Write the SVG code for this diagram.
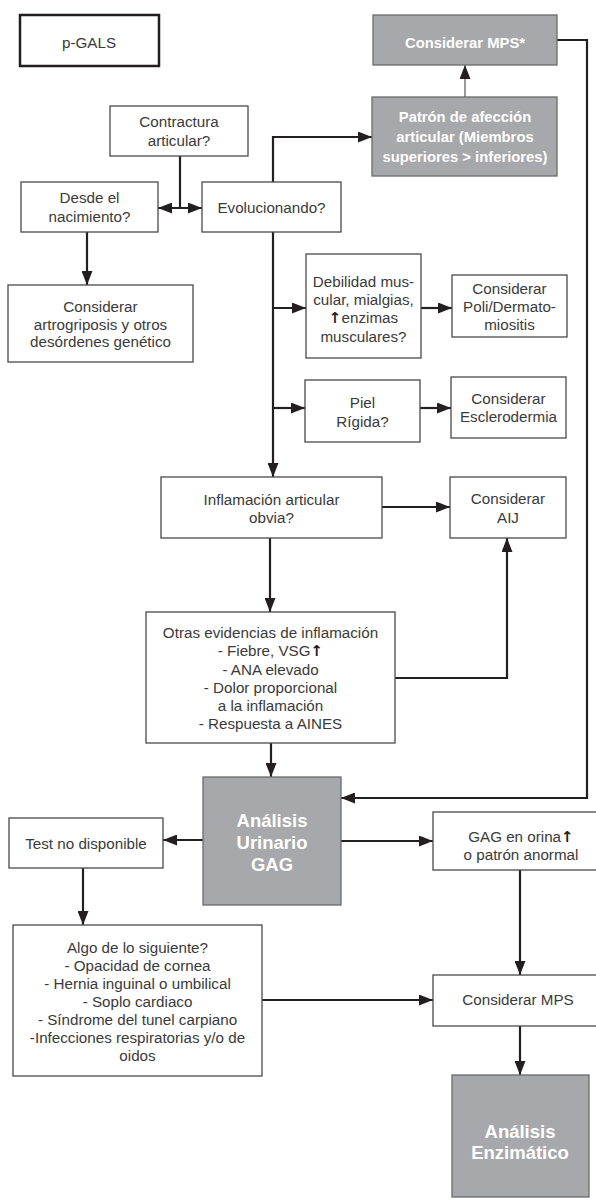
<svg xmlns="http://www.w3.org/2000/svg" width="596" height="1201" viewBox="0 0 596 1201">
<style>
  .box{fill:#fff;stroke:#4a4a4a;stroke-width:1.3}
  .gbox{fill:#a7a8ab;stroke:#6a6a6a;stroke-width:1.3}
  .t{font-family:"Liberation Sans",Arial,sans-serif;font-size:15.2px;fill:#3a3a3a;text-anchor:middle}
  .b{font-family:"Liberation Sans",Arial,sans-serif;font-size:14.8px;font-weight:bold;fill:#fff;text-anchor:middle}
  .bb{font-family:"Liberation Sans",Arial,sans-serif;font-size:18.5px;font-weight:bold;fill:#fff;text-anchor:middle}
  .ar{font-family:"DejaVu Sans",sans-serif;font-weight:bold;fill:#231f20}
  .c{fill:none;stroke:#231f20;stroke-width:2.2}
  .thin{fill:none;stroke:#555;stroke-width:1.2}
</style>
<defs>
  <marker id="ah" markerUnits="userSpaceOnUse" markerWidth="14" markerHeight="11" refX="14" refY="5.5" orient="auto-start-reverse">
    <path d="M0,0 L14,5.5 L0,11 z" fill="#231f20"/>
  </marker>
</defs>
<rect width="596" height="1201" fill="#fff"/>

<g id="connectors">
  <path class="c" d="M180,156 V208"/>
  <path class="c" d="M158,208 H202" marker-start="url(#ah)" marker-end="url(#ah)"/>
  <path class="c" d="M273,182 V137 H372" marker-end="url(#ah)"/>
  <path class="thin" d="M465,97 V65" marker-end="url(#ah)"/>
  <path class="c" d="M557,40 H587 V798 H341" marker-end="url(#ah)"/>
  <path class="c" d="M87,232 V285" marker-end="url(#ah)"/>
  <path class="c" d="M273,232 V477" marker-end="url(#ah)"/>
  <path class="c" d="M273,308 H306" marker-end="url(#ah)"/>
  <path class="c" d="M273,408 H305" marker-end="url(#ah)"/>
  <path class="c" d="M421,308 H452" marker-end="url(#ah)"/>
  <path class="c" d="M420,408 H451" marker-end="url(#ah)"/>
  <path class="c" d="M382,507 H450" marker-end="url(#ah)"/>
  <path class="c" d="M270,538 V612" marker-end="url(#ah)"/>
  <path class="c" d="M395,678 H507 V538" marker-end="url(#ah)"/>
  <path class="c" d="M271,743 V777" marker-end="url(#ah)"/>
  <path class="c" d="M203,840 H163" marker-end="url(#ah)"/>
  <path class="c" d="M341,841 H433" marker-end="url(#ah)"/>
  <path class="c" d="M83,868 V925" marker-end="url(#ah)"/>
  <path class="c" d="M262,1000 H433" marker-end="url(#ah)"/>
  <path class="c" d="M520,870 V975" marker-end="url(#ah)"/>
  <path class="c" d="M520,1026 V1075" marker-end="url(#ah)"/>
</g>

<g id="pgals">
  <rect x="20" y="15" width="139" height="51" fill="#fff" stroke="#231f20" stroke-width="2.5"/>
  <text class="t" x="89" y="48">p-GALS</text>
</g>
<g id="considerar-mps-star">
  <rect class="gbox" x="373" y="15" width="184" height="50"/>
  <text class="b" x="465" y="48">Considerar MPS*</text>
</g>
<g id="patron">
  <rect class="gbox" x="372" y="97" width="185" height="79"/>
  <text class="b" x="465" y="122">Patrón de afección</text>
  <text class="b" x="465" y="142">articular (Miembros</text>
  <text class="b" x="465" y="162">superiores &gt; inferiores)</text>
</g>
<g id="contractura">
  <rect class="box" x="110" y="106" width="138" height="50"/>
  <text class="t" x="179" y="127">Contractura</text>
  <text class="t" x="179" y="146">articular?</text>
</g>
<g id="desde">
  <rect class="box" x="21" y="182" width="137" height="50"/>
  <text class="t" x="89.5" y="203">Desde el</text>
  <text class="t" x="89.5" y="222">nacimiento?</text>
</g>
<g id="evolucionando">
  <rect class="box" x="202" y="182" width="139" height="50"/>
  <text class="t" x="271.5" y="213">Evolucionando?</text>
</g>
<g id="artrogriposis">
  <rect class="box" x="8" y="285" width="185" height="77"/>
  <text class="t" x="100.5" y="312">Considerar</text>
  <text class="t" x="100.5" y="329.5">artrogriposis y otros</text>
  <text class="t" x="100.5" y="347">desórdenes genético</text>
</g>
<g id="debilidad">
  <rect class="box" x="306" y="254" width="115" height="104"/>
  <text class="t" x="363.5" y="287">Debilidad mus-</text>
  <text class="t" x="363.5" y="305">cular, mialgias,</text>
  <text class="t" x="363.5" y="323"><tspan class="ar">↑</tspan>enzimas</text>
  <text class="t" x="363.5" y="342">musculares?</text>
</g>
<g id="poli">
  <rect class="box" x="452" y="275" width="115" height="62"/>
  <text class="t" x="509.5" y="294">Considerar</text>
  <text class="t" x="509.5" y="312">Poli/Dermato-</text>
  <text class="t" x="509.5" y="330">miositis</text>
</g>
<g id="piel">
  <rect class="box" x="305" y="380" width="115" height="62"/>
  <text class="t" x="362.5" y="408">Piel</text>
  <text class="t" x="362.5" y="427">Rígida?</text>
</g>
<g id="esclerodermia">
  <rect class="box" x="451" y="377" width="115" height="61"/>
  <text class="t" x="508.5" y="404">Considerar</text>
  <text class="t" x="508.5" y="422">Esclerodermia</text>
</g>
<g id="inflamacion">
  <rect class="box" x="161" y="477" width="221" height="61"/>
  <text class="t" x="271.5" y="505">Inflamación articular</text>
  <text class="t" x="271.5" y="523">obvia?</text>
</g>
<g id="aij">
  <rect class="box" x="450" y="477" width="116" height="61"/>
  <text class="t" x="508" y="504">Considerar</text>
  <text class="t" x="508" y="523">AIJ</text>
</g>
<g id="otras">
  <rect class="box" x="146" y="612" width="249" height="131"/>
  <text class="t" x="270.5" y="638">Otras evidencias de inflamación</text>
  <text class="t" x="270.5" y="656">- Fiebre, VSG<tspan class="ar">↑</tspan></text>
  <text class="t" x="270.5" y="675">- ANA elevado</text>
  <text class="t" x="270.5" y="693">- Dolor proporcional</text>
  <text class="t" x="270.5" y="711">a la inflamación</text>
  <text class="t" x="270.5" y="729">- Respuesta a AINES</text>
</g>
<g id="analisis-urinario">
  <rect class="gbox" x="203" y="777" width="138" height="128"/>
  <text class="bb" x="272" y="827">Análisis</text>
  <text class="bb" x="272" y="849">Urinario</text>
  <text class="bb" x="272" y="871">GAG</text>
</g>
<g id="test">
  <rect class="box" x="9" y="818" width="154" height="50"/>
  <text class="t" x="86" y="849">Test no disponible</text>
</g>
<g id="gag-orina">
  <rect class="box" x="433" y="812" width="170" height="58"/>
  <text class="t" x="521" y="842">GAG en orina<tspan class="ar">↑</tspan></text>
  <text class="t" x="521" y="860">o patrón anormal</text>
</g>
<g id="algo">
  <rect class="box" x="13" y="925" width="249" height="151"/>
  <text class="t" x="137.5" y="953">Algo de lo siguiente?</text>
  <text class="t" x="137.5" y="971">- Opacidad de cornea</text>
  <text class="t" x="137.5" y="989">- Hernia inguinal o umbilical</text>
  <text class="t" x="137.5" y="1007">- Soplo cardiaco</text>
  <text class="t" x="137.5" y="1025">- Síndrome del tunel carpiano</text>
  <text class="t" x="137.5" y="1043">-Infecciones respiratorias y/o de</text>
  <text class="t" x="137.5" y="1061">oidos</text>
</g>
<g id="considerar-mps">
  <rect class="box" x="433" y="975" width="170" height="51"/>
  <text class="t" x="518" y="1005">Considerar MPS</text>
</g>
<g id="analisis-enzimatico">
  <rect class="gbox" x="452" y="1075" width="137" height="122"/>
  <text class="bb" x="520" y="1138">Análisis</text>
  <text class="bb" x="520" y="1159">Enzimático</text>
</g>
</svg>
